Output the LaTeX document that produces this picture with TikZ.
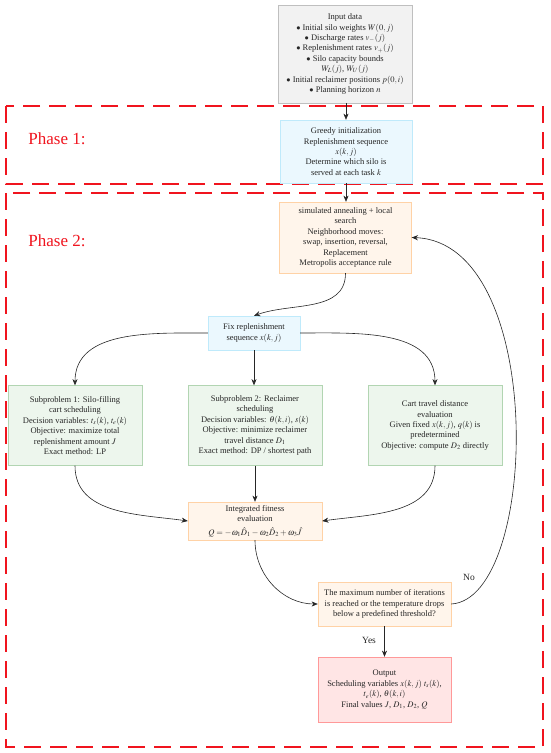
\documentclass[tikz,border=0pt]{standalone}
\usepackage{amsmath}
\usepackage{mathptmx}
\usepackage{fontspec}
\setmainfont{Liberation Serif}
\usepackage{tikz}
\usetikzlibrary{arrows.meta}
\definecolor{inkgray}{HTML}{262626}
\definecolor{phasered}{HTML}{F0141E}
\tikzset{
  box/.style={draw, thin, align=center, text=inkgray, inner sep=2pt,
              font=\fontsize{8.5}{10.4}\selectfont},
  graybox/.style={box, fill=black!5, draw=black!25},
  bluebox/.style={box, fill=cyan!8, draw=cyan!25},
  sabox/.style={box, fill=orange!8, draw=orange!35},
  greenbox/.style={box, fill=green!50!black!7, draw=green!45!black!30},
  redbox/.style={box, fill=red!10, draw=red!40},
  flow/.style={inkgray, semithick, -{Stealth[length=2.2mm,width=1.8mm]}},
  phase/.style={phasered, line width=1.1pt, dash pattern=on 17pt off 9pt},
  phasetxt/.style={text=phasered, font=\fontsize{17}{20}\selectfont},
  lbl/.style={text=inkgray, font=\fontsize{9.5}{11}\selectfont},
}
\begin{document}
\begin{tikzpicture}[x=1pt, y=-1pt]
  \useasboundingbox (0,0) rectangle (550,753);
  % phase frames
  \draw[phase] (6,106) rectangle (543,184);
  \draw[phase] (6,193) rectangle (543,747);
  \node[phasetxt] (ph1) at (57,139) {Phase 1:};
  \node[phasetxt] (ph2) at (57,241) {Phase 2:};
  % boxes
  \node[graybox, minimum width=134pt, minimum height=98pt] (input) at (345,54)
    {Input data\\
     $\bullet$ Initial silo weights $W(0,j)$\\
     $\bullet$ Discharge rates $v_{-}(j)$\\
     $\bullet$ Replenishment rates $v_{+}(j)$\\
     $\bullet$ Silo capacity bounds\\
     $W_L(j)$, $W_U(j)$\\
     $\bullet$ Initial reclaimer positions $p(0,i)$\\
     $\bullet$ Planning horizon $n$};
  \node[bluebox, minimum width=132pt, minimum height=63pt] (greedy) at (346,151.5)
    {Greedy initialization\\ Replenishment sequence\\ $x(k,j)$\\
     Determine which silo is\\ served at each task $k$};
  \node[sabox, minimum width=132pt, minimum height=71pt] (sa) at (345.5,237.5)
    {simulated annealing + local\\ search\\ Neighborhood moves:\\
     swap, insertion, reversal,\\ Replacement\\ Metropolis acceptance rule};
  \node[bluebox, minimum width=92pt, minimum height=34pt] (fix) at (254,333)
    {Fix replenishment\\ sequence $x(k,j)$};
  \node[greenbox, minimum width=134pt, minimum height=80pt] (sub1) at (75,425.5)
    {Subproblem 1: Silo-filling\\ cart scheduling\\
     Decision variables: $t_s(k)$, $t_e(k)$\\ Objective: maximize total\\
     replenishment amount $J$\\ Exact method: LP};
  \node[greenbox, minimum width=134pt, minimum height=80pt] (sub2) at (255,425.5)
    {Subproblem 2: Reclaimer\\ scheduling\\
     Decision variables: $\theta(k,i)$, $s(k)$\\ Objective: minimize reclaimer\\
     travel distance $D_1$\\ Exact method: DP / shortest path};
  \node[greenbox, minimum width=134pt, minimum height=80pt] (cart) at (435,425.5)
    {Cart travel distance\\ evaluation\\ Given fixed $x(k,j)$, $q(k)$ is\\
     predetermined\\ Objective: compute $D_2$ directly};
  \node[sabox, minimum width=134pt, minimum height=38pt] (fit) at (255,521)
    {Integrated fitness\\ evaluation\\[3pt]
     $Q=-\omega_1\hat{D}_1-\omega_2\hat{D}_2+\omega_3\hat{J}$};
  \node[sabox, minimum width=133pt, minimum height=44pt] (stop) at (384.5,604)
    {The maximum number of iterations\\ is reached or the temperature drops\\
     below a predefined threshold?};
  \node[redbox, minimum width=133pt, minimum height=65pt] (out) at (384.5,689.5)
    {Output\\ Scheduling variables $x(k,j)$ $t_s(k)$,\\ $t_e(k)$, $\theta(k,i)$\\
     Final values $J$, $D_1$, $D_2$, $Q$};
  % connectors
  \draw[flow] (input.south -| greedy.north) -- (greedy.north);
  \draw[flow] (greedy.south) -- (greedy.south |- sa.north);
  \draw[flow] (sa.south) to[out=-90, in=20] (fix.north);
  \draw[flow] (fix.west) to[out=180, in=90] (sub1.north);
  \draw[flow] (fix.south) -- (fix.south |- sub2.north);
  \draw[flow] (fix.east) to[out=0, in=90] (cart.north);
  \draw[flow] (sub1.south) to[out=-90, in=172] (fit.west);
  \draw[flow] (sub2.south) -- (fit.north);
  \draw[flow] (cart.south) to[out=-90, in=8] (fit.east);
  \draw[flow] (fit.south) to[out=-90, in=180] (stop.west);
  \draw[flow] (stop.east) .. controls +(88,-5) and +(136,5) .. (sa.east);
  \draw[flow] (stop.south) -- (out.north);
  \node[lbl] (no) at (469,577) {No};
  \node[lbl] (yes) at (369,640) {Yes};
\end{tikzpicture}
\end{document}
